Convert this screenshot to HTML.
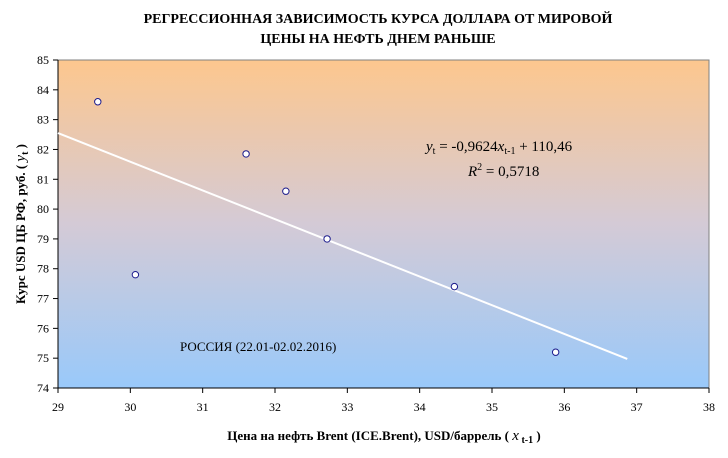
<!DOCTYPE html>
<html><head><meta charset="utf-8"><style>
body{margin:0;background:#fff;}
svg text{font-family:"Liberation Serif",serif;}
</style></head><body>
<svg width="728" height="453" xmlns="http://www.w3.org/2000/svg">
<defs><linearGradient id="bg" x1="0" y1="0" x2="0" y2="1">
<stop offset="0" stop-color="#fdc78e"/><stop offset="0.5" stop-color="#d4cad6"/><stop offset="1" stop-color="#99c9fa"/>
</linearGradient></defs>
<text x="378" y="23" text-anchor="middle" font-size="14" font-weight="bold">РЕГРЕССИОННАЯ ЗАВИСИМОСТЬ КУРСА ДОЛЛАРА ОТ МИРОВОЙ</text>
<text x="378" y="43" text-anchor="middle" font-size="14" font-weight="bold">ЦЕНЫ НА НЕФТЬ ДНЕМ РАНЬШЕ</text>
<rect x="58" y="60" width="651" height="328" fill="url(#bg)" stroke="#808080" stroke-width="1"/>
<g id="axes"></g>
<g id="marks"></g>
<text x="426" y="151" font-size="15" font-style="italic">y<tspan font-size="10" dy="3" font-style="normal">t</tspan><tspan dy="-3" font-style="normal"> = -0,9624</tspan>x<tspan font-size="10" dy="3" font-style="normal">t-1</tspan><tspan dy="-3" font-style="normal"> + 110,46</tspan></text>
<text x="468" y="176" font-size="15" font-style="italic">R<tspan font-size="10" dy="-6" font-style="normal">2</tspan><tspan dy="6" font-style="normal"> = 0,5718</tspan></text>
<text x="180" y="351" font-size="13">РОССИЯ (22.01-02.02.2016)</text>
<text x="384" y="440" text-anchor="middle" font-size="13" font-weight="bold">Цена на нефть Brent (ICE.Brent), USD/баррель ( <tspan font-style="italic" font-weight="normal" font-size="15">x</tspan><tspan font-size="10" dy="3"> t-1</tspan><tspan dy="-3"> )</tspan></text>
<text transform="translate(25,224) rotate(-90)" text-anchor="middle" font-size="13" font-weight="bold">Курс USD ЦБ РФ, руб. ( <tspan font-style="italic" font-weight="normal" font-size="15">y</tspan><tspan font-size="10" dy="3">t</tspan><tspan dy="-3"> )</tspan></text>
</svg>
<script>
const xTicks=[29,30,31,32,33,34,35,36,37,38];
const yTicks=[74,75,76,77,78,79,80,81,82,83,84,85];
const xVals=[29.55,30.07,31.6,32.15,32.72,34.48,35.88];
const yVals=[83.6,77.8,81.85,80.6,79.0,77.4,75.2];
const slope=-0.9624, intercept=110.46, lineX=[29,36.87];
const NS="http://www.w3.org/2000/svg";
const X=v=>58+(v-29)*(651/9), Y=v=>388-(v-74)*(328/11);
function mk(t,a,p){const e=document.createElementNS(NS,t);for(const k in a)e.setAttribute(k,a[k]);p.appendChild(e);return e;}
const ax=document.getElementById('axes'), mg=document.getElementById('marks');
const xl=mk('line',{x1:58,y1:388,x2:709,y2:388,stroke:'#000'},ax);


const yl=mk('line',{x1:58,y1:60,x2:58,y2:388,stroke:'#000'},ax);


xTicks.forEach(v=>{mk('line',{x1:X(v),y1:388,x2:X(v),y2:393,stroke:'#000'},ax);
const t=mk('text',{x:X(v),y:411,'text-anchor':'middle','font-size':12},ax);t.textContent=v;

});
yTicks.forEach(v=>{mk('line',{x1:53,y1:Y(v),x2:58,y2:Y(v),stroke:'#000'},ax);
const t=mk('text',{x:49,y:Y(v)+4,'text-anchor':'end','font-size':12},ax);t.textContent=v;

});
const tl=mk('line',{x1:X(lineX[0]),y1:Y(slope*lineX[0]+intercept),x2:X(lineX[1]),y2:Y(slope*lineX[1]+intercept),stroke:'#fff','stroke-width':2},mg);


xVals.forEach((v,i)=>{const c=mk('circle',{cx:X(v),cy:Y(yVals[i]),r:3.2,fill:'#fff',stroke:'#1a1a8c','stroke-width':1},mg);

});
</script>
</body></html>
